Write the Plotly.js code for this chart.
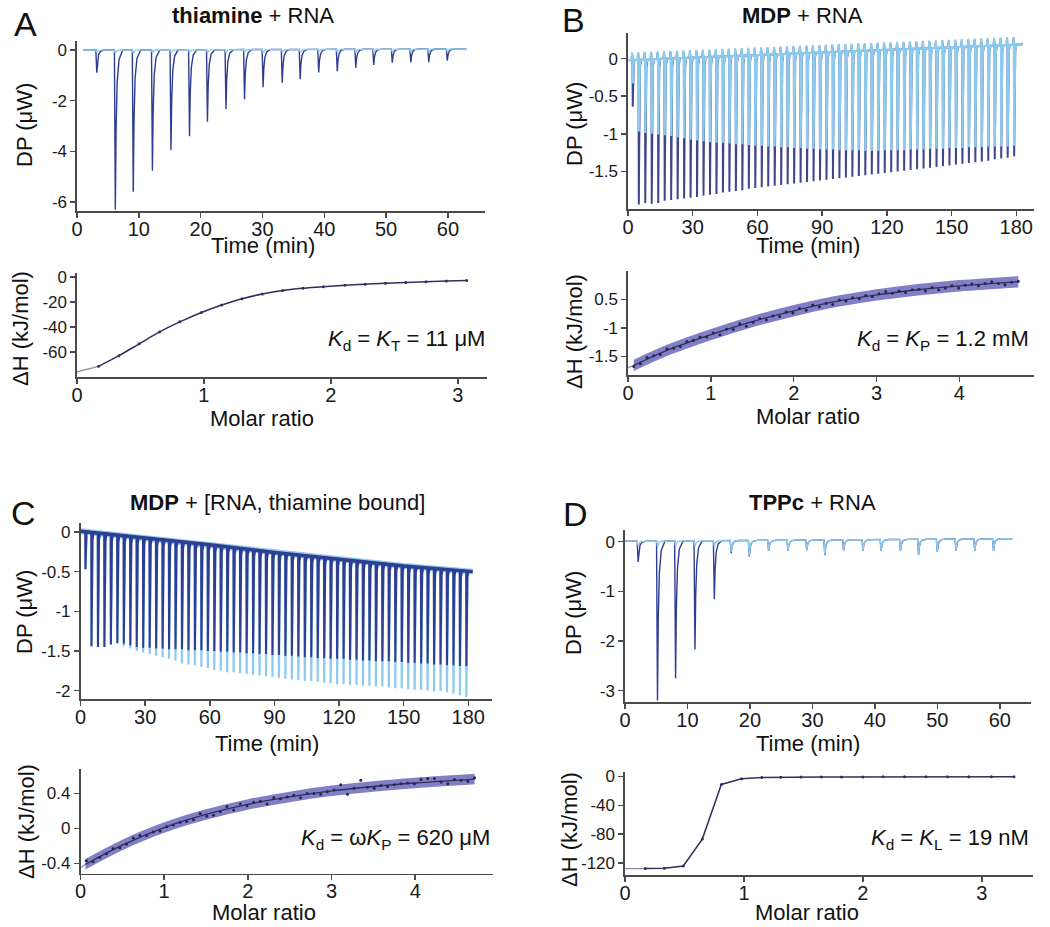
<!DOCTYPE html>
<html>
<head>
<meta charset="utf-8">
<script src="https://cdn.plot.ly/plotly-3.0.1.min.js"></script>
<style>html,body{margin:0;padding:0;background:#fff;}#chart{width:1050px;height:927px;}</style>
</head>
<body>
<div id="chart"></div>
<script>
// ---------------- DATA ----------------
// Panel A : thiamine + RNA
const timesA = [3.2, 6.2, 9.1, 12.2, 15.2, 18.2, 21.1, 24.1, 27.1, 30.1, 33.2, 36.1, 39.1, 42.1, 45.1, 48.0, 51.0, 54.0, 56.9, 59.9];
const dpDarkA = [-0.89, -6.3, -5.6, -4.77, -3.95, -3.4, -2.83, -2.33, -1.94, -1.47, -1.29, -1.15, -0.88, -0.83, -0.7, -0.59, -0.5, -0.49, -0.48, -0.42];
const dpLightA = [-0.06, -0.12, -0.12, -0.11, -0.1, -0.1, -0.1, -0.09, -0.09, -0.08, -0.08, -0.08, -0.07, -0.07, -0.07, -0.06, -0.06, -0.06, -0.06, -0.06];
const baseTA = [1, 63];
const baseVA = [0.0, 0.05];
const mrA = [0.17, 0.33, 0.49, 0.65, 0.81, 0.98, 1.14, 1.30, 1.46, 1.62, 1.78, 1.94, 2.11, 2.27, 2.43, 2.59, 2.75, 2.91, 3.07];
const dhA = [-71.5, -63, -53.5, -44, -36, -28.5, -22.5, -17.5, -13.8, -11, -9.2, -7.9, -6.8, -5.9, -5.1, -4.5, -3.9, -3.4, -3.0];
const extAx = [0, 0.17];
const extAy = [-76, -71.5];

// Panel B : MDP + RNA
const timesB = [2.2, 5, 8, 11, 14, 17, 20, 23, 26, 29, 32, 35, 38, 41, 44, 47, 50, 53, 56, 59, 62, 65, 68, 71, 74, 77, 80, 83, 86, 89, 92, 95, 98, 101, 104, 107, 110, 113, 116, 119, 122, 125, 128, 131, 134, 137, 140, 143, 146, 149, 152, 155, 158, 161, 164, 167, 170, 173, 176, 179];
const dpDarkB = [-0.64, -1.94, -1.92, -1.93, -1.92, -1.89, -1.88, -1.87, -1.86, -1.85, -1.84, -1.82, -1.81, -1.80, -1.78, -1.77, -1.76, -1.75, -1.73, -1.72, -1.71, -1.70, -1.69, -1.68, -1.67, -1.66, -1.65, -1.64, -1.63, -1.62, -1.61, -1.60, -1.59, -1.58, -1.57, -1.56, -1.55, -1.54, -1.53, -1.52, -1.51, -1.50, -1.49, -1.48, -1.47, -1.46, -1.45, -1.44, -1.43, -1.42, -1.41, -1.40, -1.39, -1.38, -1.37, -1.36, -1.34, -1.33, -1.32, -1.30];
const dpLightB = [-0.33, -0.97, -0.99, -1.00, -1.01, -1.02, -1.03, -1.05, -1.06, -1.08, -1.09, -1.10, -1.11, -1.12, -1.12, -1.13, -1.14, -1.14, -1.15, -1.16, -1.16, -1.17, -1.17, -1.18, -1.18, -1.19, -1.19, -1.20, -1.20, -1.21, -1.21, -1.21, -1.22, -1.22, -1.22, -1.22, -1.23, -1.23, -1.23, -1.22, -1.22, -1.22, -1.22, -1.21, -1.21, -1.21, -1.20, -1.20, -1.20, -1.19, -1.19, -1.19, -1.18, -1.18, -1.18, -1.17, -1.17, -1.17, -1.17, -1.16];
const baseTB = [0, 183];
const baseVB = [-0.02, 0.19];
const mrB = [0.07, 0.15, 0.23, 0.31, 0.39, 0.47, 0.55, 0.63, 0.71, 0.79, 0.87, 0.95, 1.03, 1.11, 1.19, 1.27, 1.35, 1.43, 1.51, 1.59, 1.67, 1.75, 1.83, 1.91, 1.99, 2.07, 2.15, 2.23, 2.31, 2.39, 2.47, 2.55, 2.63, 2.71, 2.79, 2.87, 2.95, 3.03, 3.11, 3.19, 3.27, 3.35, 3.43, 3.51, 3.59, 3.67, 3.75, 3.83, 3.91, 3.99, 4.07, 4.15, 4.23, 4.31, 4.39, 4.47, 4.55, 4.63, 4.71];
const dhB = [-1.68, -1.63, -1.52, -1.49, -1.47, -1.37, -1.36, -1.33, -1.24, -1.22, -1.16, -1.16, -1.09, -1.12, -1.02, -1.03, -0.93, -0.97, -0.90, -0.84, -0.86, -0.79, -0.80, -0.72, -0.74, -0.66, -0.69, -0.60, -0.63, -0.57, -0.59, -0.51, -0.53, -0.47, -0.49, -0.43, -0.45, -0.40, -0.36, -0.39, -0.35, -0.38, -0.33, -0.32, -0.35, -0.29, -0.33, -0.30, -0.26, -0.30, -0.25, -0.23, -0.26, -0.22, -0.19, -0.22, -0.24, -0.20, -0.18];
const fitBx = [0.07, 0.5, 1, 1.5, 2, 2.5, 3, 3.5, 4, 4.71];
const fitBy = [-1.66, -1.38, -1.12, -0.89, -0.70, -0.54, -0.42, -0.33, -0.26, -0.19];
const bandBhi = [-1.56, -1.28, -1.02, -0.79, -0.60, -0.44, -0.32, -0.23, -0.16, -0.09];
const bandBlo = [-1.76, -1.48, -1.22, -0.99, -0.80, -0.64, -0.52, -0.43, -0.36, -0.29];
const extBx = [0, 0.07];
const extBy = [-1.70, -1.66];

// Panel C : MDP + [RNA, thiamine bound]
const timesC = [2.3, 5.1, 8.1, 11.1, 14.1, 17.1, 20.1, 23.1, 26.1, 29.1, 32.1, 35.1, 38.1, 41.1, 44.1, 47.1, 50.1, 53.1, 56.1, 59.1, 62.1, 65.1, 68.1, 71.1, 74.1, 77.1, 80.1, 83.1, 86.1, 89.1, 92.1, 95.1, 98.1, 101.1, 104.1, 107.1, 110.1, 113.1, 116.1, 119.1, 122.1, 125.1, 128.1, 131.1, 134.1, 137.1, 140.1, 143.1, 146.1, 149.1, 152.1, 155.1, 158.1, 161.1, 164.1, 167.1, 170.1, 173.1, 176.1, 179.1];
const dpDarkC = [-0.47, -1.44, -1.45, -1.45, -1.42, -1.40, -1.41, -1.43, -1.45, -1.46, -1.46, -1.47, -1.47, -1.48, -1.48, -1.48, -1.49, -1.49, -1.49, -1.50, -1.50, -1.51, -1.51, -1.52, -1.52, -1.53, -1.53, -1.54, -1.54, -1.55, -1.55, -1.56, -1.56, -1.57, -1.58, -1.58, -1.59, -1.59, -1.60, -1.60, -1.60, -1.61, -1.61, -1.62, -1.62, -1.63, -1.63, -1.63, -1.64, -1.64, -1.65, -1.65, -1.66, -1.66, -1.67, -1.67, -1.68, -1.68, -1.69, -1.69];
const dpLightC = [-0.47, -1.44, -1.45, -1.45, -1.42, -1.41, -1.44, -1.47, -1.50, -1.52, -1.54, -1.56, -1.58, -1.60, -1.62, -1.66, -1.67, -1.68, -1.70, -1.72, -1.74, -1.75, -1.77, -1.77, -1.78, -1.79, -1.80, -1.81, -1.82, -1.83, -1.84, -1.85, -1.86, -1.87, -1.88, -1.88, -1.89, -1.90, -1.91, -1.92, -1.92, -1.93, -1.93, -1.94, -1.94, -1.95, -1.95, -1.96, -1.97, -1.97, -1.98, -1.99, -1.99, -2.00, -2.01, -2.01, -2.02, -2.04, -2.06, -2.08];
const baseTC = [0, 30, 60, 90, 120, 150, 182];
const baseVC = [0.01, -0.075, -0.16, -0.26, -0.345, -0.43, -0.5];
const mrC = [0.07, 0.15, 0.23, 0.31, 0.39, 0.47, 0.55, 0.63, 0.71, 0.79, 0.87, 0.95, 1.03, 1.11, 1.19, 1.27, 1.35, 1.43, 1.51, 1.59, 1.67, 1.75, 1.83, 1.91, 1.99, 2.07, 2.15, 2.23, 2.31, 2.39, 2.47, 2.55, 2.63, 2.71, 2.79, 2.87, 2.95, 3.03, 3.11, 3.19, 3.27, 3.35, 3.43, 3.51, 3.59, 3.67, 3.75, 3.83, 3.91, 3.99, 4.07, 4.15, 4.23, 4.31, 4.39, 4.47, 4.55, 4.63, 4.71];
const dhC = [-0.37, -0.38, -0.33, -0.29, -0.23, -0.22, -0.18, -0.11, -0.08, -0.08, -0.04, -0.03, 0.02, 0.04, 0.07, 0.08, 0.10, 0.17, 0.14, 0.15, 0.19, 0.25, 0.21, 0.28, 0.26, 0.30, 0.31, 0.28, 0.35, 0.34, 0.36, 0.38, 0.35, 0.40, 0.40, 0.39, 0.42, 0.44, 0.50, 0.39, 0.46, 0.55, 0.47, 0.46, 0.49, 0.48, 0.50, 0.51, 0.52, 0.51, 0.56, 0.57, 0.57, 0.53, 0.51, 0.56, 0.55, 0.54, 0.58];
const fitCx = [0.06, 0.5, 1, 1.5, 2, 2.5, 3, 3.5, 4, 4.71];
const fitCy = [-0.41, -0.19, 0.01, 0.16, 0.275, 0.36, 0.43, 0.48, 0.52, 0.565];
const bandChi = [-0.35, -0.13, 0.07, 0.22, 0.335, 0.42, 0.49, 0.54, 0.58, 0.625];
const bandClo = [-0.47, -0.25, -0.05, 0.10, 0.215, 0.30, 0.37, 0.42, 0.46, 0.505];
const extCx = [0, 0.06];
const extCy = [-0.45, -0.41];

// Panel D : TPPc + RNA
const timesD = [2.1, 5.2, 8.1, 11.2, 14.3, 17.0, 19.9, 23.0, 26.1, 29.1, 32.0, 35.0, 38.1, 41.0, 44.1, 47.0, 50.0, 53.0, 56.0, 59.0];
const dpDarkD = [-0.41, -3.2, -2.75, -2.17, -1.16, -0.23, -0.3, -0.18, -0.18, -0.17, -0.27, -0.18, -0.18, -0.18, -0.18, -0.26, -0.2, -0.18, -0.18, -0.18];
const dpLightD = [-0.08, -0.1, -0.1, -0.1, -0.1, -0.2, -0.28, -0.18, -0.18, -0.17, -0.26, -0.18, -0.18, -0.18, -0.18, -0.25, -0.2, -0.18, -0.18, -0.18];
const baseTD = [0, 62];
const baseVD = [0.01, 0.06];
const mrD = [0.17, 0.33, 0.49, 0.65, 0.81, 0.98, 1.15, 1.31, 1.48, 1.65, 1.82, 2.0, 2.17, 2.35, 2.53, 2.71, 2.89, 3.08, 3.27];
const dhD = [-128, -127.5, -124.5, -87, -11, -3, -1.5, -1, -0.8, -0.6, -0.5, -0.5, -0.4, -0.4, -0.3, -0.3, -0.3, -0.2, -0.2];
const extDx = [0, 0.17];
const extDy = [-128, -128];

// tick labels
const tickTime60 = [0, 10, 20, 30, 40, 50, 60];
const tickTime180 = [0, 30, 60, 90, 120, 150, 180];
const tickMR3 = [0, 1, 2, 3];
const tickMR4 = [0, 1, 2, 3, 4];
const tickDPA = [0, -2, -4, -6];
const tickDPB = [0, -0.5, -1, -1.5];
const tickDPC = [0, -0.5, -1, -1.5, -2];
const tickDPD = [0, -1, -2, -3];
const tickDHA = [0, -20, -40, -60];
const tickDHBv = [-0.5, -1, -1.5];
const tickDHBt = ['0.5', '-1', '-1.5'];
const tickDHC = [0.4, 0, -0.4];
const tickDHD = [0, -40, -80, -120];

// ---------------- DRAWING ----------------
const W = 1050, H = 927;
const FONT = 'Liberation Sans, Arial, Helvetica, sans-serif';
const DARK = '#2f3d92';
const DARKB = '#41458c';
const LIGHT = '#8ccbee';
const FIT = '#30305c';
const AXC = '#4a4a4a';

function baseAt(bt, bv, t) {
  if (t <= bt[0]) return bv[0];
  for (let i = 1; i < bt.length; i++) {
    if (t <= bt[i]) return bv[i-1] + (bv[i]-bv[i-1]) * (t-bt[i-1])/(bt[i]-bt[i-1]);
  }
  return bv[bv.length-1];
}
function thermo(times, depths, bt, bv, t0, t1, shape, up) {
  const xs = [], ys = [];
  xs.push(t0); ys.push(baseAt(bt, bv, t0));
  times.forEach((t, i) => {
    const b = baseAt(bt, bv, t);
    if (up) { xs.push(t-0.5, t-0.3, t-0.15); ys.push(b, b+up, b); }
    shape.forEach(([dt, f]) => { xs.push(t+dt); ys.push(b + f*(depths[i]-b)); });
  });
  xs.push(t1); ys.push(baseAt(bt, bv, t1));
  return {x: xs, y: ys};
}
const shape60 = [[-0.15,0],[0,1],[0.12,0.5],[0.3,0.2],[0.6,0.06],[1.2,0]];
const shape180 = [[-0.1,0],[0,1],[0.2,0.3],[0.5,0.06],[1.0,0]];

function tr(xy, n, color, width, extra) {
  const s = n === 1 ? '' : String(n);
  return Object.assign({x: xy.x, y: xy.y, xaxis: 'x'+s, yaxis: 'y'+s, mode: 'lines',
    line: {color: color, width: width}, hoverinfo: 'skip', showlegend: false}, extra || {});
}

const traces = [];
// A thermogram
traces.push(tr(thermo(timesA, dpDarkA, baseTA, baseVA, 1, 63, shape60), 1, DARK, 1.4));
traces.push(tr(thermo(timesA, dpLightA, baseTA, baseVA, 1, 63, shape60), 1, LIGHT, 1.4));
// A isotherm
traces.push(tr({x: extAx, y: extAy}, 2, '#8a8a9a', 1.3));
traces.push(tr({x: mrA, y: dhA}, 2, FIT, 1.5, {mode: 'lines+markers', marker: {size: 3, color: FIT}, line: {color: FIT, width: 1.5, shape: 'spline'}}));
// B thermogram
traces.push(tr(thermo(timesB, dpDarkB, baseTB, baseVB, 0, 183, shape180, 0.08), 3, DARKB, 2));
traces.push(tr(thermo(timesB, dpLightB, baseTB, baseVB, 0, 183, shape180, 0.1), 3, LIGHT, 2.2));
// B isotherm
traces.push(tr({x: fitBx, y: bandBlo}, 4, 'rgba(0,0,0,0)', 0, {line: {color: 'rgba(0,0,0,0)', width: 0, shape: 'spline'}}));
traces.push(tr({x: fitBx, y: bandBhi}, 4, 'rgba(0,0,0,0)', 0, {fill: 'tonexty', fillcolor: 'rgba(92,92,182,0.78)', line: {color: 'rgba(0,0,0,0)', width: 0, shape: 'spline'}}));
traces.push(tr({x: extBx, y: extBy}, 4, '#8a8a9a', 1.2));
traces.push(tr({x: fitBx, y: fitBy}, 4, FIT, 1.3, {line: {color: FIT, width: 1.3, shape: 'spline'}}));
traces.push(tr({x: mrB, y: dhB}, 4, FIT, 0, {mode: 'markers', marker: {size: 3, color: '#26264e'}}));
// C thermogram (dark on top)
traces.push(tr({x: baseTC, y: baseVC}, 5, LIGHT, 6));
traces.push(tr(thermo(timesC, dpLightC, baseTC, baseVC, 0, 182, shape180), 5, LIGHT, 2.2));
traces.push(tr(thermo(timesC, dpDarkC, baseTC, baseVC, 0, 182, shape180), 5, DARK, 2));
traces.push(tr({x: baseTC, y: baseVC}, 5, DARK, 3.5));
// C isotherm
traces.push(tr({x: fitCx, y: bandClo}, 6, 'rgba(0,0,0,0)', 0, {line: {color: 'rgba(0,0,0,0)', width: 0, shape: 'spline'}}));
traces.push(tr({x: fitCx, y: bandChi}, 6, 'rgba(0,0,0,0)', 0, {fill: 'tonexty', fillcolor: 'rgba(92,92,182,0.78)', line: {color: 'rgba(0,0,0,0)', width: 0, shape: 'spline'}}));
traces.push(tr({x: extCx, y: extCy}, 6, '#8a8a9a', 1.2));
traces.push(tr({x: fitCx, y: fitCy}, 6, FIT, 1.3, {line: {color: FIT, width: 1.3, shape: 'spline'}}));
traces.push(tr({x: mrC, y: dhC}, 6, FIT, 0, {mode: 'markers', marker: {size: 3, color: '#26264e'}}));
// D thermogram
traces.push(tr(thermo(timesD, dpDarkD, baseTD, baseVD, 0, 62, shape60), 7, DARK, 1.4));
traces.push(tr(thermo(timesD, dpLightD, baseTD, baseVD, 0, 62, shape60), 7, LIGHT, 1.4));
// D isotherm
traces.push(tr({x: extDx, y: extDy}, 8, '#8a8a9a', 1.3));
traces.push(tr({x: mrD, y: dhD}, 8, FIT, 1.5, {mode: 'lines+markers', marker: {size: 3, color: FIT}, line: {color: FIT, width: 1.5}}));

function common(extra) {
  return Object.assign({showline: true, linecolor: AXC, linewidth: 1.6, ticks: 'outside', ticklen: 5,
    tickwidth: 1.5, tickcolor: AXC, showgrid: false, zeroline: false, fixedrange: true}, extra);
}
function xAx(n, x0, x1, range, tv) {
  return common({anchor: 'y' + (n === 1 ? '' : n), domain: [x0/W, x1/W], range: range,
    tickmode: 'array', tickvals: tv, ticktext: tv.map(String), ticklabelstandoff: -6,
    tickfont: {family: FONT, size: 20, color: '#1a1a1a'}});
}
function yAx(n, top, bottom, range, tv, tt) {
  return common({anchor: 'x' + (n === 1 ? '' : n), domain: [1 - bottom/H, 1 - top/H], range: range,
    tickmode: 'array', tickvals: tv, ticktext: tt || tv.map(String),
    tickfont: {family: FONT, size: 17, color: '#1a1a1a'}});
}
const layout = {
  width: W, height: H, margin: {l: 0, r: 0, t: 0, b: 0}, showlegend: false,
  paper_bgcolor: '#ffffff', plot_bgcolor: 'rgba(0,0,0,0)',
  font: {family: FONT, color: '#1a1a1a'},
  xaxis:  xAx(1, 77, 485, [0, 66], tickTime60),
  yaxis:  yAx(1, 41, 211, [-6.36, 0.36], tickDPA),
  xaxis2: xAx(2, 77, 487, [0, 3.23], tickMR3),
  yaxis2: yAx(2, 273, 377, [-80, 3], tickDHA),
  xaxis3: xAx(3, 628, 1034, [0, 188.2], tickTime180),
  yaxis3: yAx(3, 33, 209, [-2.0, 0.34], tickDPB),
  xaxis4: xAx(4, 628, 1034, [0, 4.9], tickMR4),
  yaxis4: yAx(4, 271, 375, [-1.83, 0.0], tickDHBv, tickDHBt),
  xaxis5: xAx(5, 80.5, 492, [0, 191], tickTime180),
  yaxis5: yAx(5, 523, 699.3, [-2.11, 0.113], tickDPC),
  xaxis6: xAx(6, 80.5, 493, [0, 4.93], tickMR4),
  yaxis6: yAx(6, 769, 873.5, [-0.515, 0.68], tickDHC),
  xaxis7: xAx(7, 625, 1031, [0, 65], tickTime60),
  yaxis7: yAx(7, 530, 702, [-3.23, 0.235], tickDPD),
  xaxis8: xAx(8, 625, 1033, [0, 3.43], tickMR3),
  yaxis8: yAx(8, 771.5, 875, [-137, 7], tickDHD),
  annotations: []
};
function ann(text, px, py, size, xanchor, angle) {
  layout.annotations.push({text: text, xref: 'paper', yref: 'paper', x: px/W, y: 1 - py/H,
    xanchor: xanchor || 'center', yanchor: 'middle', showarrow: false, textangle: angle || 0,
    font: {family: FONT, size: size, color: '#111'}});
}
// panel letters and titles
ann('A', 25, 24, 34); ann('B', 573, 20, 34); ann('C', 23, 513, 34); ann('D', 575, 514, 34);
ann('<b>thiamine</b> + RNA', 253, 16, 22);
ann('<b>MDP</b> + RNA', 802, 16, 22);
ann('<b>MDP</b> + [RNA, thiamine bound]', 277, 503, 22);
ann('<b>TPPc</b> + RNA', 812, 503, 22);
// axis titles
const DPT = 'DP (μW)', DHT = 'ΔH (kJ/mol)', TT = 'Time (min)', MRT = 'Molar ratio';
ann(TT, 263, 246, 22); ann(TT, 808, 246, 22); ann(TT, 267, 743, 22); ann(TT, 808, 743, 22);
ann(MRT, 262, 418, 22); ann(MRT, 808, 416, 22); ann(MRT, 264, 912, 22); ann(MRT, 807, 912, 22);
ann(DPT, 24, 125, 22, 'center', -90); ann(DHT, 21, 329, 22, 'center', -90);
ann(DPT, 574, 124, 22, 'center', -90); ann(DHT, 574, 332, 22, 'center', -90);
ann(DPT, 24, 612, 22, 'center', -90); ann(DHT, 26, 822, 22, 'center', -90);
ann(DPT, 573, 613, 22, 'center', -90); ann(DHT, 569, 830, 22, 'center', -90);
// dissociation constants
ann('<i>K</i><sub>d</sub> = <i>K</i><sub>T</sub> = 11 μM', 487, 340, 22, 'right');
ann('<i>K</i><sub>d</sub> = <i>K</i><sub>P</sub> = 1.2 mM', 1031, 340, 22, 'right');
ann('<i>K</i><sub>d</sub> = ω<i>K</i><sub>P</sub> = 620 μM', 492, 839, 22, 'right');
ann('<i>K</i><sub>d</sub> = <i>K</i><sub>L</sub> = 19 nM', 1031, 839, 22, 'right');

Plotly.newPlot('chart', traces, layout, {staticPlot: true, displayModeBar: false});
</script>
</body>
</html>
